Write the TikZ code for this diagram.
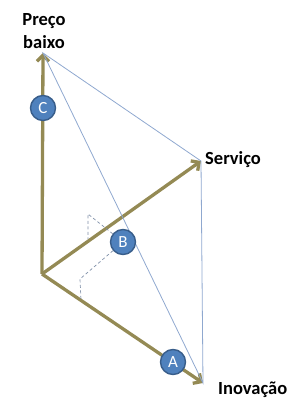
\documentclass[tikz,border=0pt]{standalone}
\usepackage{fontspec}
\setmainfont{Carlito}
\usetikzlibrary{arrows.meta}
\definecolor{olive}{HTML}{948A54}
\definecolor{thinblue}{HTML}{8FA8CF}
\definecolor{dashc}{HTML}{7F8FA8}
\definecolor{ballfill}{HTML}{4F81BD}
\definecolor{ballline}{HTML}{385D8A}
\tikzset{
  axis/.style={draw=olive, line width=3.3pt, -{Straight Barb[length=6pt,width=12pt]}},
  thin/.style={draw=thinblue, line width=0.8pt},
  proj/.style={draw=dashc, line width=0.7pt, dash pattern=on 3pt off 2.5pt},
  ball/.style={circle, fill=ballfill, draw=ballline, line width=1.4pt, minimum size=25pt, inner sep=0pt, text=white, font=\fontsize{17}{17}\selectfont},
  lab/.style={font=\bfseries\fontsize{18.5}{23}\selectfont, align=center, inner sep=0pt}
}
\begin{document}
\begin{tikzpicture}[x=1pt,y=-1pt]
\useasboundingbox (0,0) rectangle (304,400);
\coordinate (O) at (42,274);
\coordinate (P) at (43,53);
\coordinate (S) at (201,161);
\coordinate (I) at (203,383);
\coordinate (q1) at (88,214);
\coordinate (q2) at (88,239);
\coordinate (r1) at (80,279);
\coordinate (r2) at (81,300);
\draw[axis] (O) -- (P);
\draw[axis] (O) -- (S);
\draw[axis] (O) -- (I);
\draw[thin] (P) -- (S) -- (I) -- cycle;
\node[ball] (B) at (123,242) {B};
\draw[proj] (B) -- (q1) -- (q2);
\draw[proj] (B) -- (r1) -- (r2);
\node[ball] (C) at (43,108) {C};
\node[ball] (A) at (173,362) {A};
\node[lab] (lp) at (44,31) {Preço\\baixo};
\node[lab, anchor=west] (ls) at (205,160) {Serviço};
\node[lab, anchor=west] (li) at (218,390) {Inovação};
\end{tikzpicture}
\end{document}
